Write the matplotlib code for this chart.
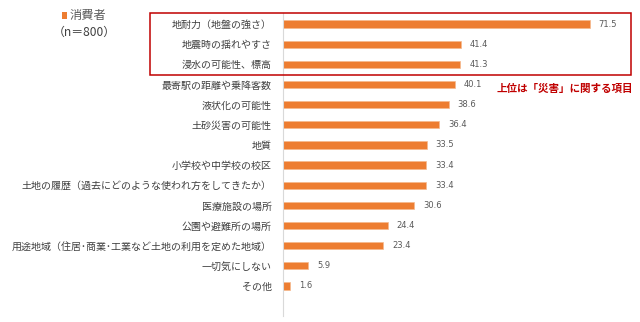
import matplotlib
matplotlib.use("Agg")
import matplotlib.pyplot as plt
from matplotlib.patches import Rectangle

plt.rcParams['font.family'] = ['Noto Sans CJK JP', 'DejaVu Sans']

categories = [
    "地耐力（地盤の強さ）",
    "地震時の揺れやすさ",
    "浸水の可能性、標高",
    "最寄駅の距離や乗降客数",
    "液状化の可能性",
    "土砂災害の可能性",
    "地質",
    "小学校や中学校の校区",
    "土地の履歴（過去にどのような使われ方をしてきたか）",
    "医療施設の場所",
    "公園や避難所の場所",
    "用途地域（住居･商業･工業など土地の利用を定めた地域）",
    "一切気にしない",
    "その他",
]
values = [71.5, 41.4, 41.3, 40.1, 38.6, 36.4, 33.5, 33.4, 33.4, 30.6, 24.4, 23.4, 5.9, 1.6]
series_name = "消費者"
n_label = "（n＝800）"
note = "上位は「災害」に関する項目"

W, H = 640, 322
fig = plt.figure(figsize=(W / 100, H / 100), dpi=100)
ax = fig.add_axes([283 / W, 1 - 316 / H, (622 - 283) / W, (316 - 13) / H])

orange = "#ED7D31"
ypos = list(range(len(categories)))
ax.barh(ypos, values, height=0.36, color=orange, edgecolor="#F6B98E", linewidth=0.5, zorder=2)
ax.set_xlim(0, (622 - 283) / 4.29)
ax.set_ylim(14.49, -0.55)

for y, v in zip(ypos, values):
    ax.annotate(f"{v:.1f}", (v, y), xytext=(6.5, 0), textcoords="offset points",
                va="center", ha="left", fontsize=6, color="#595959", family="DejaVu Sans")

ax.set_yticks(ypos)
ax.set_yticklabels(categories, fontsize=7.2, color="#404040")
ax.tick_params(axis="y", length=0, pad=8)
ax.set_xticks([])
for s in ["top", "right", "bottom"]:
    ax.spines[s].set_visible(False)
ax.spines["left"].set_color("#D9D9D9")
ax.spines["left"].set_linewidth(0.8)

# Red highlight box
fig.patches.append(Rectangle((150 / W, 1 - 75 / H), (631 - 150) / W, (75 - 13) / H,
                             transform=fig.transFigure, fill=False, edgecolor="#C00000",
                             linewidth=1.1, zorder=5))
fig.text(633 / W, 1 - 89 / H, note, ha="right", va="center", fontsize=7.6,
         fontweight="bold", color="#C00000")

# Legend
fig.patches.append(Rectangle((61.5 / W, 1 - 18.5 / H), 5.5 / W, 6 / H, transform=fig.transFigure,
                             facecolor=orange, edgecolor="none"))
fig.text(70 / W, 1 - 16 / H, series_name, ha="left", va="center", fontsize=8.8, color="#595959")
fig.text(84 / W, 1 - 32 / H, n_label, ha="center", va="center", fontsize=8.6, color="#404040")

fig.savefig("out.png", dpi=100)
